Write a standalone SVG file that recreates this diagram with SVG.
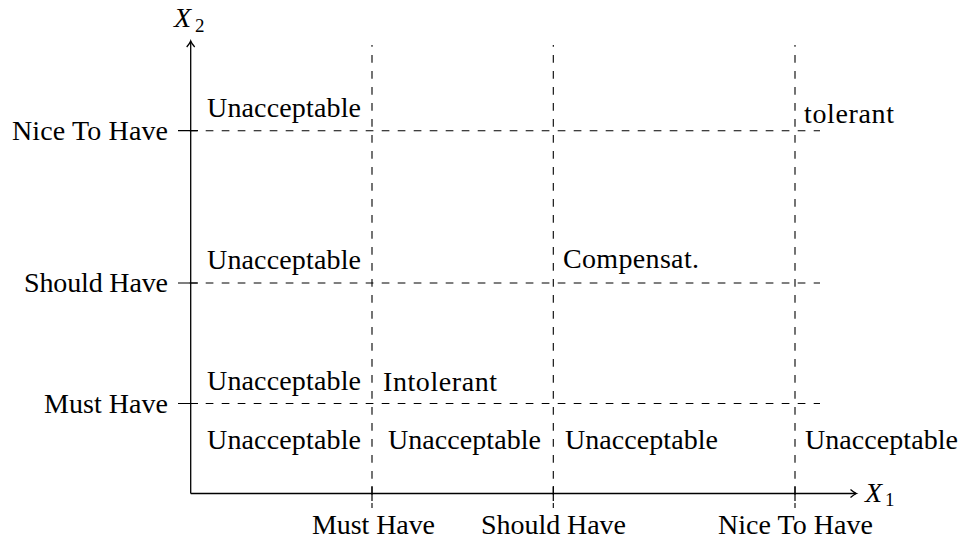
<svg xmlns="http://www.w3.org/2000/svg" width="964" height="541" viewBox="0 0 964 541" font-family="'Liberation Serif', 'DejaVu Serif', serif">
<style>
text{font-family:'Liberation Serif','DejaVu Serif',serif;font-size:28px;fill:#000}
.it{font-style:italic}
.sub{font-size:19px}
.ax{stroke:#000;stroke-width:1.3;fill:none}
.tk{stroke:#000;stroke-width:1.2;fill:none}
.dh{stroke:#000;stroke-width:1.1;fill:none;stroke-dasharray:7.7 8.3;stroke-dashoffset:8.3}
.dv{stroke:#000;stroke-width:1.1;fill:none;stroke-dasharray:7.7 8.3;stroke-dashoffset:6}
.r{text-anchor:end}
</style>
<rect width="964" height="541" fill="#fff"/>
<g id="connectors">
  <g id="grid">
    <path class="dh" d="M182,130.7H820"/>
    <path class="dh" d="M182,283H820"/>
    <path class="dh" d="M182,403.5H820"/>
    <path class="dv" d="M372,45V508"/>
    <path class="dv" d="M553.3,45V508"/>
    <path class="dv" d="M795,45V508"/>
  </g>
  <g id="ticks">
    <path class="tk" d="M178,130.7H198M178,283H198M178,403.5H198"/>
    <path class="tk" d="M372,486V501M553.3,486V501M795,486V501"/>
  </g>
  <g id="axes">
    <path class="ax" d="M190.7,493.5V41.5"/>
    <path class="ax" d="M186.7,47 C188.5,45 190,43 190.7,41 C191.4,43 192.9,45 194.7,47"/>
    <path class="ax" d="M190.7,493.5H856"/>
    <path class="ax" d="M850.5,489.5 C852.5,491.3 854.5,492.8 856.5,493.5 C854.5,494.2 852.5,495.7 850.5,497.5"/>
  </g>
</g>
<g id="axis-x2"><text class="it" x="174" y="27">X</text><text class="sub" x="195" y="32">2</text></g>
<g id="axis-x1"><text class="it" x="865" y="502">X</text><text class="sub" x="885" y="506">1</text></g>
<g id="y-labels">
  <text class="r" x="168" y="140" textLength="156">Nice To Have</text>
  <text class="r" x="168" y="292" textLength="144">Should Have</text>
  <text class="r" x="168" y="413" textLength="124">Must Have</text>
</g>
<g id="x-labels">
  <text x="312" y="534" textLength="123">Must Have</text>
  <text x="481" y="534" textLength="145">Should Have</text>
  <text x="718" y="534" textLength="155">Nice To Have</text>
</g>
<g id="cell-nice-1"><text x="207" y="117" textLength="154">Unacceptable</text></g>
<g id="cell-nice-4"><text x="804" y="123" textLength="90">tolerant</text></g>
<g id="cell-should-1"><text x="207" y="268.5" textLength="154">Unacceptable</text></g>
<g id="cell-should-3"><text x="563" y="268" textLength="136">Compensat.</text></g>
<g id="cell-must-1"><text x="207" y="389.5" textLength="154">Unacceptable</text></g>
<g id="cell-must-2"><text x="383" y="391" textLength="114">Intolerant</text></g>
<g id="cell-below-1"><text x="207" y="449" textLength="154">Unacceptable</text></g>
<g id="cell-below-2"><text x="388" y="449" textLength="153">Unacceptable</text></g>
<g id="cell-below-3"><text x="565" y="449" textLength="153">Unacceptable</text></g>
<g id="cell-below-4"><text x="805" y="449" textLength="153">Unacceptable</text></g>
</svg>
